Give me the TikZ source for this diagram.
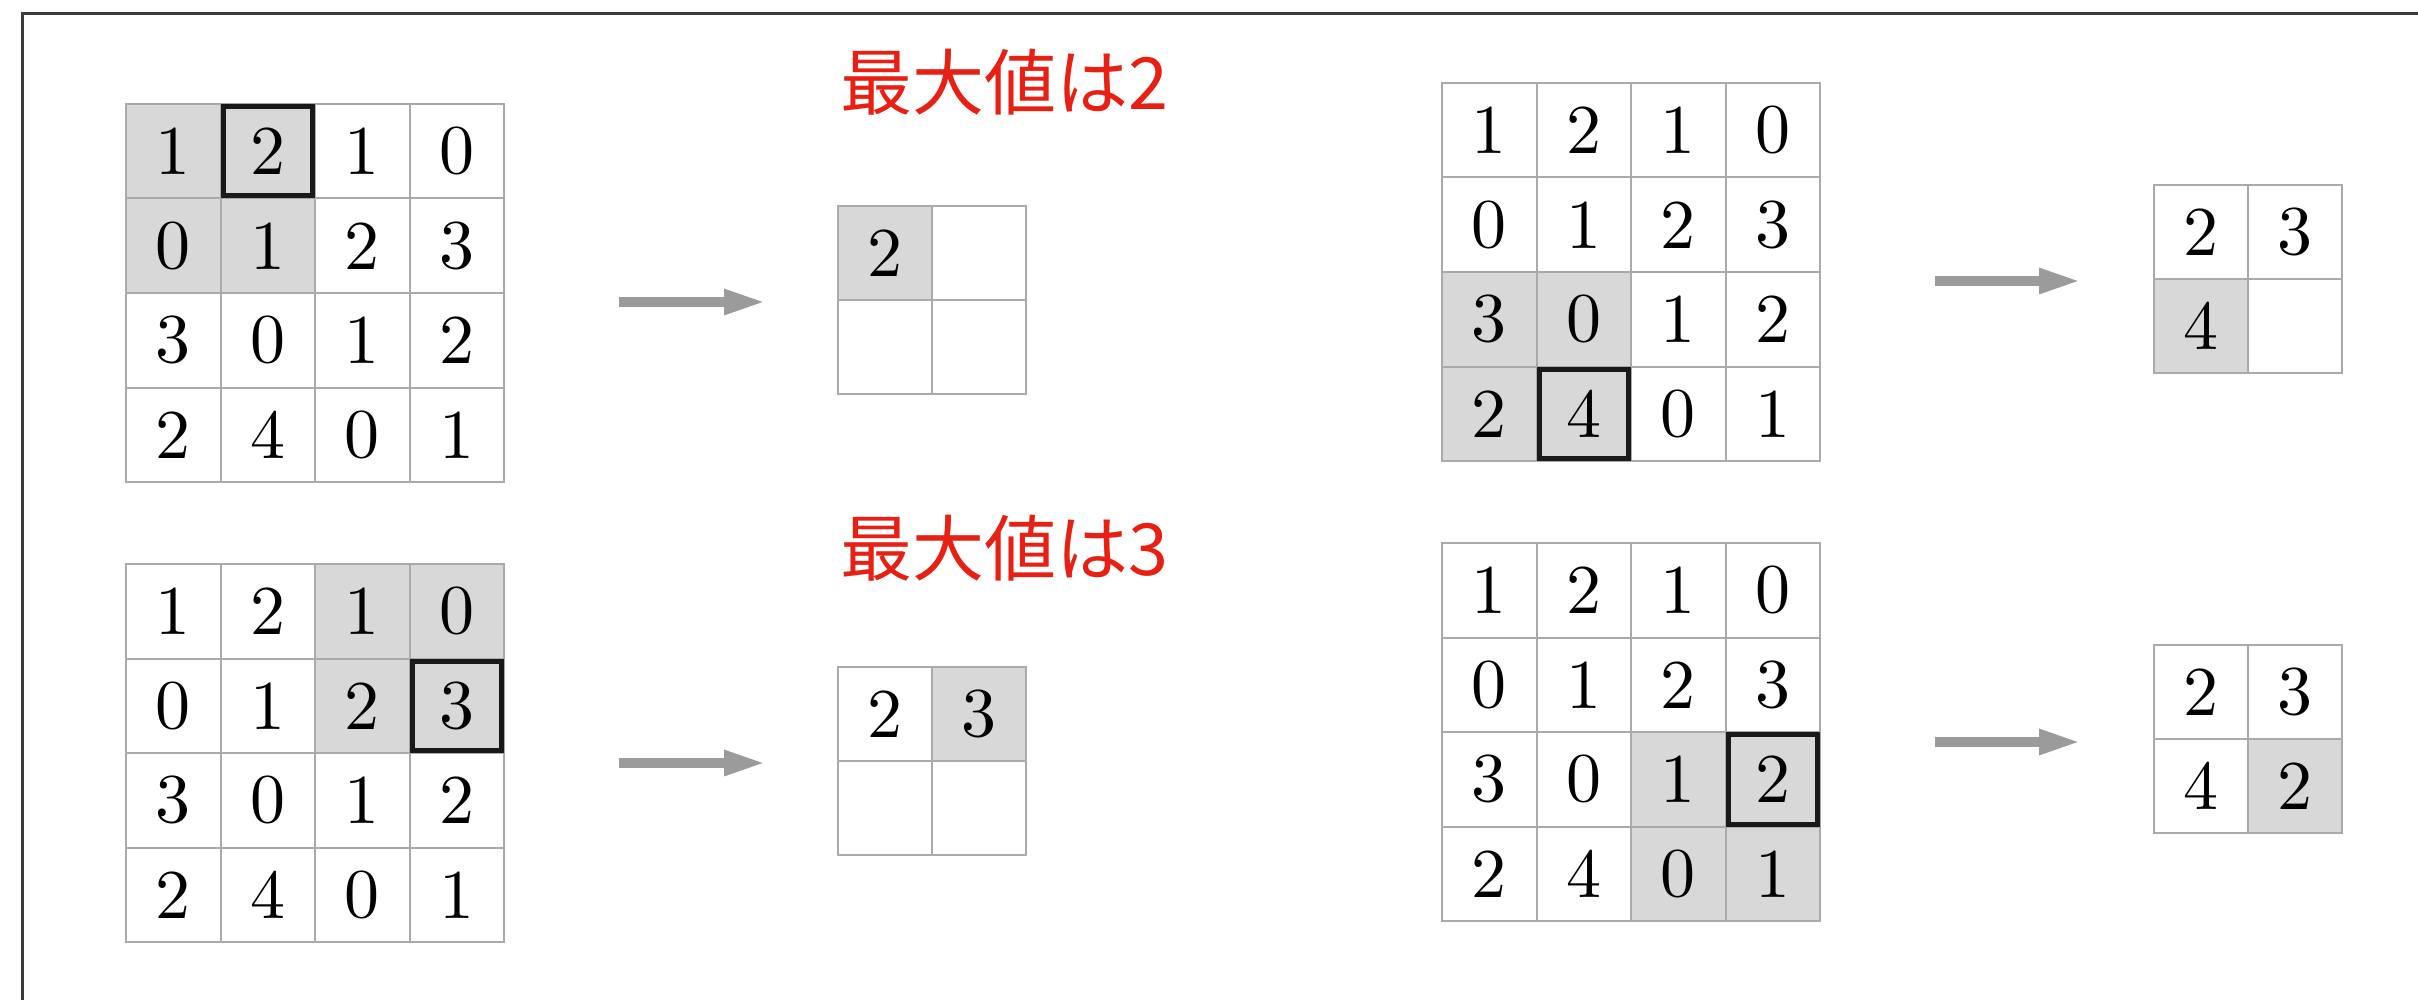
\documentclass[tikz,border=0pt]{standalone}
\usepackage{fontspec}
\newfontfamily\cjk{Noto Sans CJK JP}
\newfontfamily\digitfont{lmroman10-regular.otf}
\usetikzlibrary{arrows.meta}
\definecolor{gridgray}{RGB}{170,170,170}
\definecolor{shadegray}{RGB}{216,216,216}
\definecolor{arrowgray}{RGB}{155,155,155}
\definecolor{labelred}{RGB}{232,32,20}
\definecolor{framegray}{RGB}{60,60,60}
\definecolor{boldblack}{RGB}{25,25,25}

\newcommand\poolgrid[7]{%
  \begin{scope}[shift={(#2,#3)}]
    \fill[shadegray] ({#5*94.5},{#4*94.5}) rectangle ++(189,189);
    \foreach \r/\va/\vb/\vc/\vd in {0/1/2/1/0,1/0/1/2/3,2/3/0/1/2,3/2/4/0/1}{
      \foreach \k/\v in {0/\va,1/\vb,2/\vc,3/\vd}{
        \node[cellbox] (#1-\r-\k) at ({\k*94.5},{\r*94.5}) {\v};
      }
    }
    \node[selbox] (#1-sel) at ({(#7+0.5)*94.5},{(#6+0.5)*94.5}) {};
  \end{scope}}

\begin{document}
\begin{tikzpicture}[x=0.5pt,y=-0.5pt,
  cellbox/.style={draw=gridgray, line width=1pt, minimum width=47.25pt,
    minimum height=47.25pt, inner sep=0pt, outer sep=0pt, anchor=north west,
    font=\digitfont\fontsize{35}{40}\selectfont},
  outcell/.style={draw=gridgray, line width=1pt, minimum width=47pt,
    minimum height=47pt, inner sep=0pt, outer sep=0pt, anchor=north west,
    font=\digitfont\fontsize{35}{40}\selectfont},
  selbox/.style={draw=boldblack, line width=2.5pt, minimum width=44.75pt,
    minimum height=44.75pt, inner sep=0pt, outer sep=0pt},
  poolarrow/.style={draw=arrowgray, line width=5.25pt,
    -{Triangle[length=21.5pt,width=11.5pt]}},
  lbl/.style={text=labelred, font=\cjk\fontsize{36}{40}\selectfont,
    inner sep=0pt, anchor=base west},
  frame/.style={draw=framegray, line width=1.5pt}]

\fill[white] (0,0) rectangle (2418,1000);
\useasboundingbox (0,0) rectangle (2418,1000);

% frame (only top and left edges visible)
\coordinate (fr-tl) at (22,14);
\coordinate (fr-tr) at (2418,14);
\coordinate (fr-bl) at (22,1000);
\draw[frame] (fr-bl) -- (fr-tl) -- (fr-tr);

% input grids
\poolgrid{g1}{126}{104}{0}{0}{0}{1}
\poolgrid{g2}{126}{564}{0}{2}{1}{3}
\poolgrid{g3}{1442}{83}{2}{0}{3}{1}
\poolgrid{g4}{1442}{543}{2}{2}{2}{3}

% output grid 1
\begin{scope}[shift={(838,206)}]
  \node[outcell, fill=shadegray] (o1-0-0) at (0,0) {2};
  \node[outcell] (o1-0-1) at (94,0) {};
  \node[outcell] (o1-1-0) at (0,94) {};
  \node[outcell] (o1-1-1) at (94,94) {};
\end{scope}
% output grid 2
\begin{scope}[shift={(838,667)}]
  \node[outcell] (o2-0-0) at (0,0) {2};
  \node[outcell, fill=shadegray] (o2-0-1) at (94,0) {3};
  \node[outcell] (o2-1-0) at (0,94) {};
  \node[outcell] (o2-1-1) at (94,94) {};
\end{scope}
% output grid 3
\begin{scope}[shift={(2154,185)}]
  \node[outcell] (o3-0-0) at (0,0) {2};
  \node[outcell] (o3-0-1) at (94,0) {3};
  \node[outcell, fill=shadegray] (o3-1-0) at (0,94) {4};
  \node[outcell] (o3-1-1) at (94,94) {};
\end{scope}
% output grid 4
\begin{scope}[shift={(2154,645)}]
  \node[outcell] (o4-0-0) at (0,0) {2};
  \node[outcell] (o4-0-1) at (94,0) {3};
  \node[outcell] (o4-1-0) at (0,94) {4};
  \node[outcell, fill=shadegray] (o4-1-1) at (94,94) {2};
\end{scope}

% arrows
\coordinate (a1s) at (619,302);  \coordinate (a1e) at (767,302);
\coordinate (a2s) at (619,763);  \coordinate (a2e) at (767,763);
\coordinate (a3s) at (1935,281); \coordinate (a3e) at (2082,281);
\coordinate (a4s) at (1935,742); \coordinate (a4e) at (2082,742);
\draw[poolarrow] (a1s) -- (a1e);
\draw[poolarrow] (a2s) -- (a2e);
\draw[poolarrow] (a3s) -- (a3e);
\draw[poolarrow] (a4s) -- (a4e);

% labels
\node[lbl] (t1) at (840,110) {最大値は2};
\node[lbl] (t2) at (840,575) {最大値は3};
\end{tikzpicture}
\end{document}
